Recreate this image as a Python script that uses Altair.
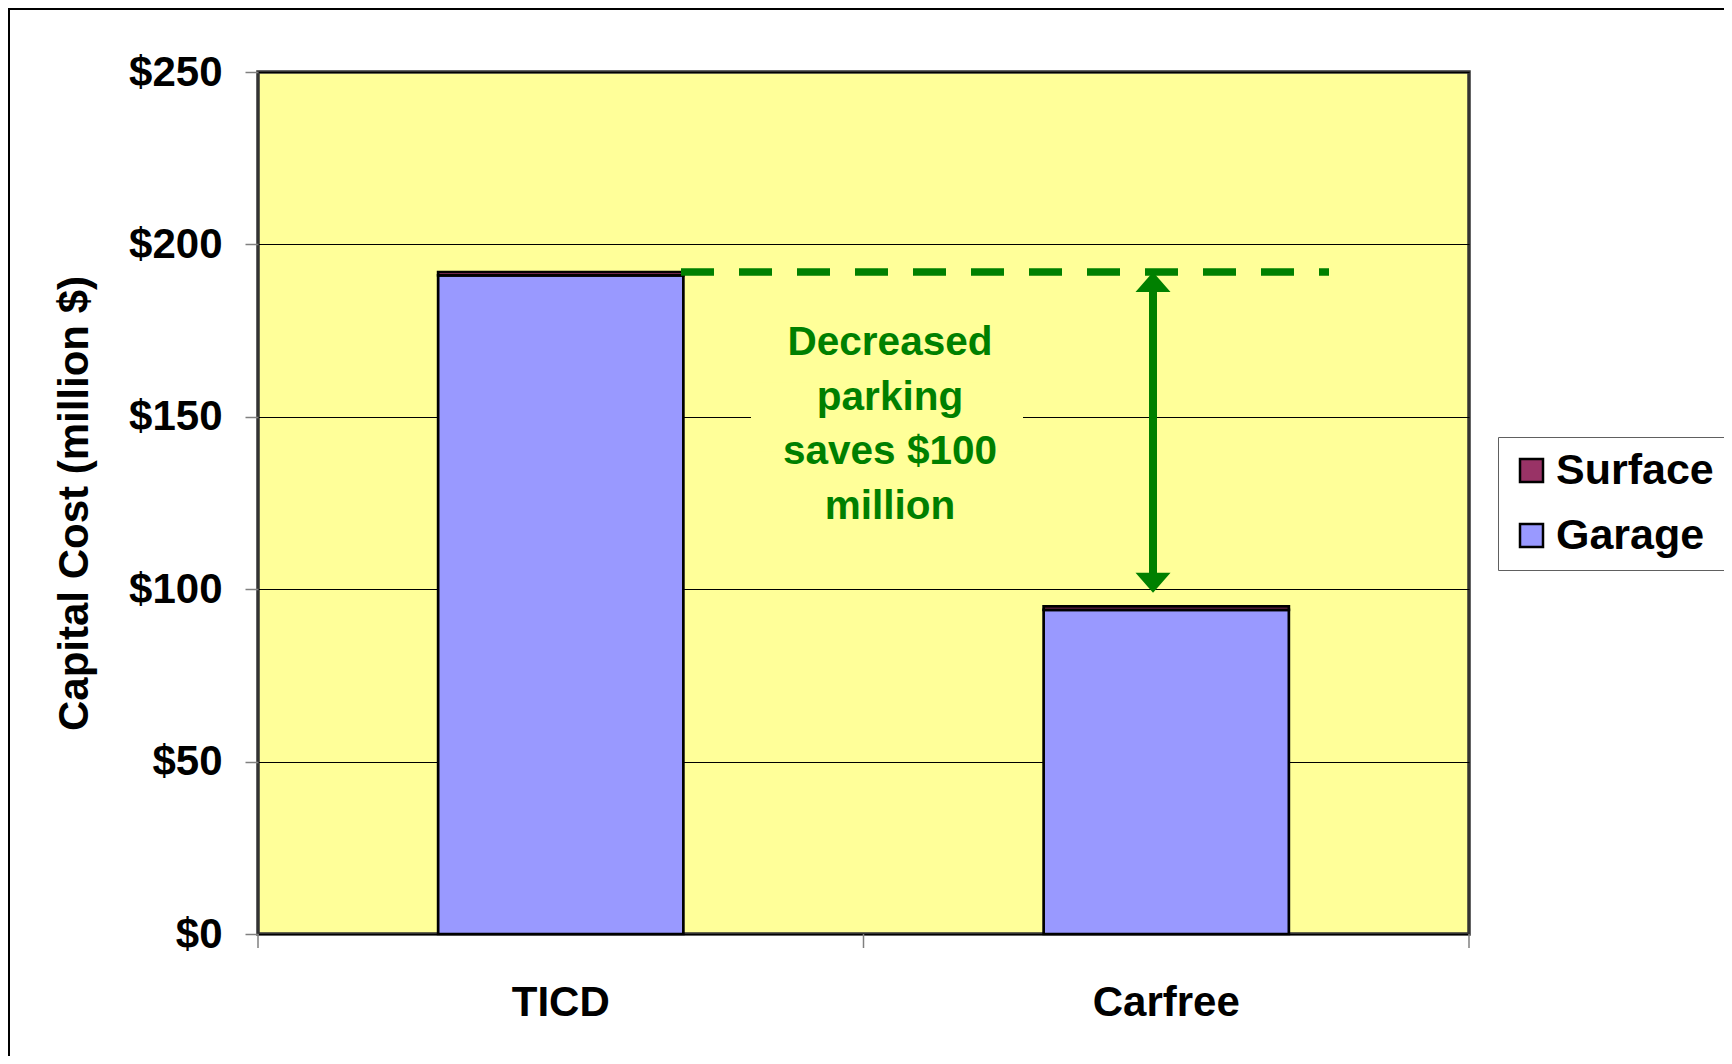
import altair as alt
import pandas as pd

# ---- data ----
categories = ["TICD", "Carfree"]
series = ["Surface", "Garage"]
series_colors = ["#993366", "#9999FF"]
garage = [191, 94]
surface = [1, 1]
y_ticks = [0, 50, 100, 150, 200, 250]
annotation_lines = ["Decreased", "parking", "saves $100", "million"]
top_level = 192      # level of the dashed reference line (TICD total)
arrow_bottom = 99    # arrow lower tip (about the Carfree level)

rows = []
for c, g, s in zip(categories, garage, surface):
    rows.append({"category": c, "series": "Garage", "value": g, "order": 0})
    rows.append({"category": c, "series": "Surface", "value": s, "order": 1})
df = pd.DataFrame(rows)
one = pd.DataFrame({"k": [0]})

W, H = 1211, 862
FONT = "Liberation Sans"
GREEN = "#008000"
PLOT_BG = "#FFFF99"

x_scale = alt.Scale(domain=categories, paddingInner=0.595, paddingOuter=0.2975)
y_scale = alt.Scale(domain=[0, 250], nice=False, zero=True)

bars = alt.Chart(df).mark_bar(stroke="black", strokeWidth=2.7).encode(
    x=alt.X("category:N", scale=x_scale, sort=categories,
            axis=alt.Axis(title=None, labelAngle=0, labelFontSize=42, labelFont=FONT,
                          labelFontWeight="bold", labelColor="black", labelPadding=48,
                          ticks=False, domain=False, grid=False)),
    y=alt.Y("value:Q", stack="zero", scale=y_scale,
            axis=alt.Axis(values=y_ticks, format="$,.0f", title="Capital Cost (million $)",
                          labelFontSize=42, labelFont=FONT, labelFontWeight="bold",
                          labelColor="black", labelPadding=23, tickSize=13,
                          tickColor="#808080", tickWidth=1.5, domain=False,
                          grid=True, gridColor="black", gridWidth=1,
                          titleFont=FONT, titleFontSize=42, titleFontWeight="bold",
                          titleColor="black", titleX=-171, titleY=H / 2,
                          titleAngle=-90, titleAlign="center", titleBaseline="alphabetic")),
    color=alt.Color("series:N", scale=alt.Scale(domain=series, range=series_colors),
                    legend=alt.Legend(title=None, orient="none", legendX=1240, legendY=365,
                                      direction="vertical", padding=12, rowPadding=21,
                                      labelFontSize=43, labelFont=FONT, labelFontWeight="bold",
                                      labelColor="black", labelOffset=3, symbolType="square",
                                      symbolSize=529, symbolStrokeColor="black",
                                      symbolStrokeWidth=2.5, strokeColor="#606060",
                                      fillColor="white")),
    order=alt.Order("order:Q", sort="ascending"),
)

# yellow patch behind the annotation text (hides the $150 gridline there)
text_bg = alt.Chart(one).mark_rect(color=PLOT_BG).encode(
    x=alt.value(493), x2=alt.value(765),
    y=alt.datum(140), y2=alt.datum(160),
)

dashed = alt.Chart(one).mark_rule(color=GREEN, strokeWidth=7.5, strokeDash=[33, 25]).encode(
    x=alt.value(423), x2=alt.value(1071), y=alt.datum(top_level),
)

shaft = alt.Chart(one).mark_rule(color=GREEN, strokeWidth=8).encode(
    x=alt.value(895), y=alt.datum(top_level - 3), y2=alt.datum(arrow_bottom + 3),
)

head_up = alt.Chart(one).mark_point(
    shape="M0,0L1,1.14L-1,1.14Z", size=1225, filled=True, fill=GREEN,
    strokeWidth=0, opacity=1,
).encode(x=alt.value(895), y=alt.datum(top_level))

head_down = alt.Chart(one).mark_point(
    shape="M0,0L1,-1.14L-1,-1.14Z", size=1225, filled=True, fill=GREEN,
    strokeWidth=0, opacity=1,
).encode(x=alt.value(895), y=alt.datum(arrow_bottom))

label = alt.Chart(one).mark_text(
    font=FONT, fontSize=40.5, fontWeight="bold", color=GREEN, align="center",
    baseline="middle", lineHeight=54.5,
).encode(x=alt.value(632), y=alt.datum(171.3), text=alt.value(annotation_lines))

# x-axis ticks at the category boundaries
x_tick_pos = pd.DataFrame({"px": [0, W / 2, W]})
x_ticks = alt.Chart(x_tick_pos).mark_rule(color="#808080", strokeWidth=1.5).encode(
    x=alt.X("px:Q", scale=None), y=alt.value(H), y2=alt.value(H + 14),
)

frame_left = alt.Chart(one).mark_rule(color="black", strokeWidth=2).encode(
    x=alt.value(-249), y=alt.value(-64), y2=alt.value(H + 122),
)
frame_top = alt.Chart(one).mark_rule(color="black", strokeWidth=2).encode(
    x=alt.value(-250), x2=alt.value(W + 255), y=alt.value(-63),
)

chart = alt.layer(
    text_bg, bars, dashed, shaft, head_up, head_down, label, x_ticks, frame_left, frame_top
).properties(
    width=W, height=H,
    autosize=alt.AutoSizeParams(type="none"),
    padding={"left": 250, "top": 64, "right": 255, "bottom": 122},
    background="white",
).configure_view(
    fill=PLOT_BG, stroke="#333333", strokeWidth=3.5,
)

chart.save("out.html", embed_options={"renderer": "svg", "actions": False})
